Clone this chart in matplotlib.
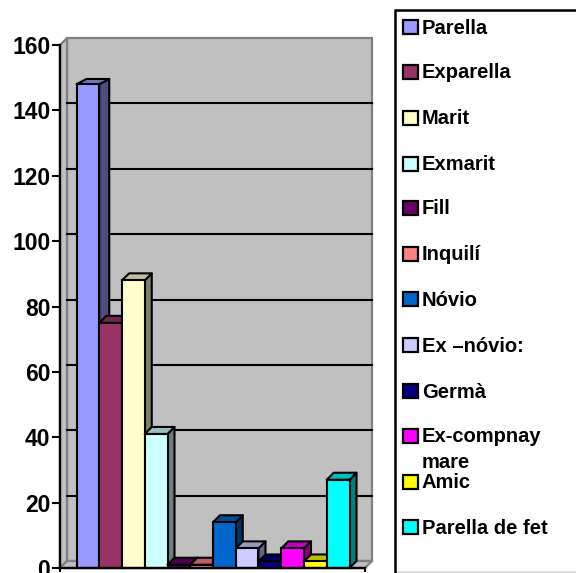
import matplotlib
matplotlib.use("Agg")
import matplotlib.pyplot as plt
from matplotlib.patches import Polygon, Rectangle
from matplotlib.lines import Line2D

categories = ["Parella", "Exparella", "Marit", "Exmarit", "Fill", "Inquilí", "Nóvio",
              "Ex –nóvio:", "Germà", "Ex-compnay\nmare", "Amic", "Parella de fet"]
values = [148, 75, 88, 41, 1, 1, 14, 6, 2, 6, 2, 27]
front_colors = ["#9999FF", "#993366", "#FFFFCC", "#CCFFFF", "#660066", "#FF8080", "#0066CC",
                "#CCCCFF", "#000080", "#FF00FF", "#FFFF00", "#00FFFF"]
top_colors = ["#7373BF", "#732650", "#BFBF99", "#99BFBF", "#4D004D", "#BF6060", "#004D99",
              "#9999BF", "#000060", "#BF00BF", "#BFBF00", "#00BFBF"]
side_colors = ["#4D4D80", "#4D1A33", "#808066", "#668080", "#330033", "#804040", "#003366",
               "#666680", "#000040", "#800080", "#808000", "#008080"]
y_ticks = [0, 20, 40, 60, 80, 100, 120, 140, 160]
legend_y = [27, 72, 118, 164, 208, 254, 299, 345, 391, 436, 482, 527]

W, H = 576, 573
plt.rcParams['font.family'] = ['Liberation Sans', 'DejaVu Sans']
fig = plt.figure(figsize=(W / 100, H / 100), dpi=100, facecolor="white")
L, R, T, B = 60, 365, 45, 568
ax = fig.add_axes([L / W, 1 - B / H, (R - L) / W, (B - T) / H])
step = 22.75
ax.set_xlim(-0.5 - 16.5 / step, 11.5 + 15.5 / step)
ax.set_ylim(0, 160)
ax.patch.set_visible(False)
dx = 7 / step
dy = 7 / (523 / 160)
x0, x1 = ax.get_xlim()

def poly(pts, fc, ec="black", lw=1.5, z=3):
    ax.add_patch(Polygon(pts, closed=True, fc=fc, ec=ec, lw=lw, zorder=z, clip_on=False, joinstyle="round"))

# walls and floor
poly([(x0 + dx, dy), (x1 + dx, dy), (x1 + dx, 160 + dy), (x0 + dx, 160 + dy)], "#C0C0C0", "#808080", 1.6, 1)
poly([(x0, 0), (x0 + dx, dy), (x0 + dx, 160 + dy), (x0, 160)], "#C0C0C0", "#808080", 1.6, 1)
poly([(x0, 0), (x1, 0), (x1 + dx, dy), (x0 + dx, dy)], "#C0C0C0", "#808080", 1.6, 1)
for t in y_ticks[1:-1]:
    ax.plot([x0 + dx, x1 + dx], [t + dy, t + dy], color="black", lw=1.5, zorder=2, clip_on=False)

# bars
w = 0.5
for i, v in enumerate(values):
    a, b = i - w, i + w
    d = 10 / step if i == 0 else dx
    dd = dy * 0.75 if i == 0 else dy
    poly([(b, 0), (b + d, dd), (b + d, v + dd), (b, v)], side_colors[i], z=3 + i)
    poly([(a, v), (b, v), (b + d, v + dd), (a + d, v + dd)], top_colors[i], z=3 + i)
    ax.add_patch(Rectangle((a, 0), 2 * w, v, fc=front_colors[i], ec="black", lw=1.5, zorder=3 + i, clip_on=False))

ax.set_yticks(y_ticks)
ax.set_xticks([x0, x1])
ax.set_xticklabels([])
ax.tick_params(axis="y", length=6, width=1.5, labelsize=16.5, pad=1)
ax.tick_params(axis="x", length=3, width=1.5, direction="out")
for lab in ax.get_yticklabels():
    lab.set_fontweight("bold")
for s in ["top", "right"]:
    ax.spines[s].set_visible(False)
for s in ["left", "bottom"]:
    ax.spines[s].set_linewidth(1.7)
    ax.spines[s].set_zorder(30)

# legend
def fx(p): return p / W
def fy(p): return 1 - p / H
def fline(xs, ys, color, lw):
    fig.add_artist(Line2D([fx(p) for p in xs], [fy(p) for p in ys], color=color, lw=lw,
                          transform=fig.transFigure, solid_capstyle="butt"))
fline([395, 576], [572, 572], "#D4D4D4", 1.2)
fline([395, 576], [10, 10], "black", 1.8)
fline([395, 395], [9, 573], "black", 1.8)
for name, c, py in zip(categories, front_colors, legend_y):
    fig.add_artist(Rectangle((fx(402.5), fy(py + 7)), 15.5 / W, 14 / H, transform=fig.transFigure,
                             fc=c, ec="black", lw=1.6))
    parts = name.split("\n")
    fig.text(fx(422), fy(py + 6.5), parts[0], fontsize=14.5, fontweight="bold", va="baseline", ha="left")
    if len(parts) > 1:
        fig.text(fx(422), fy(py + 32), parts[1], fontsize=14.5, fontweight="bold", va="baseline", ha="left")

fig.savefig("out.png", dpi=100)
